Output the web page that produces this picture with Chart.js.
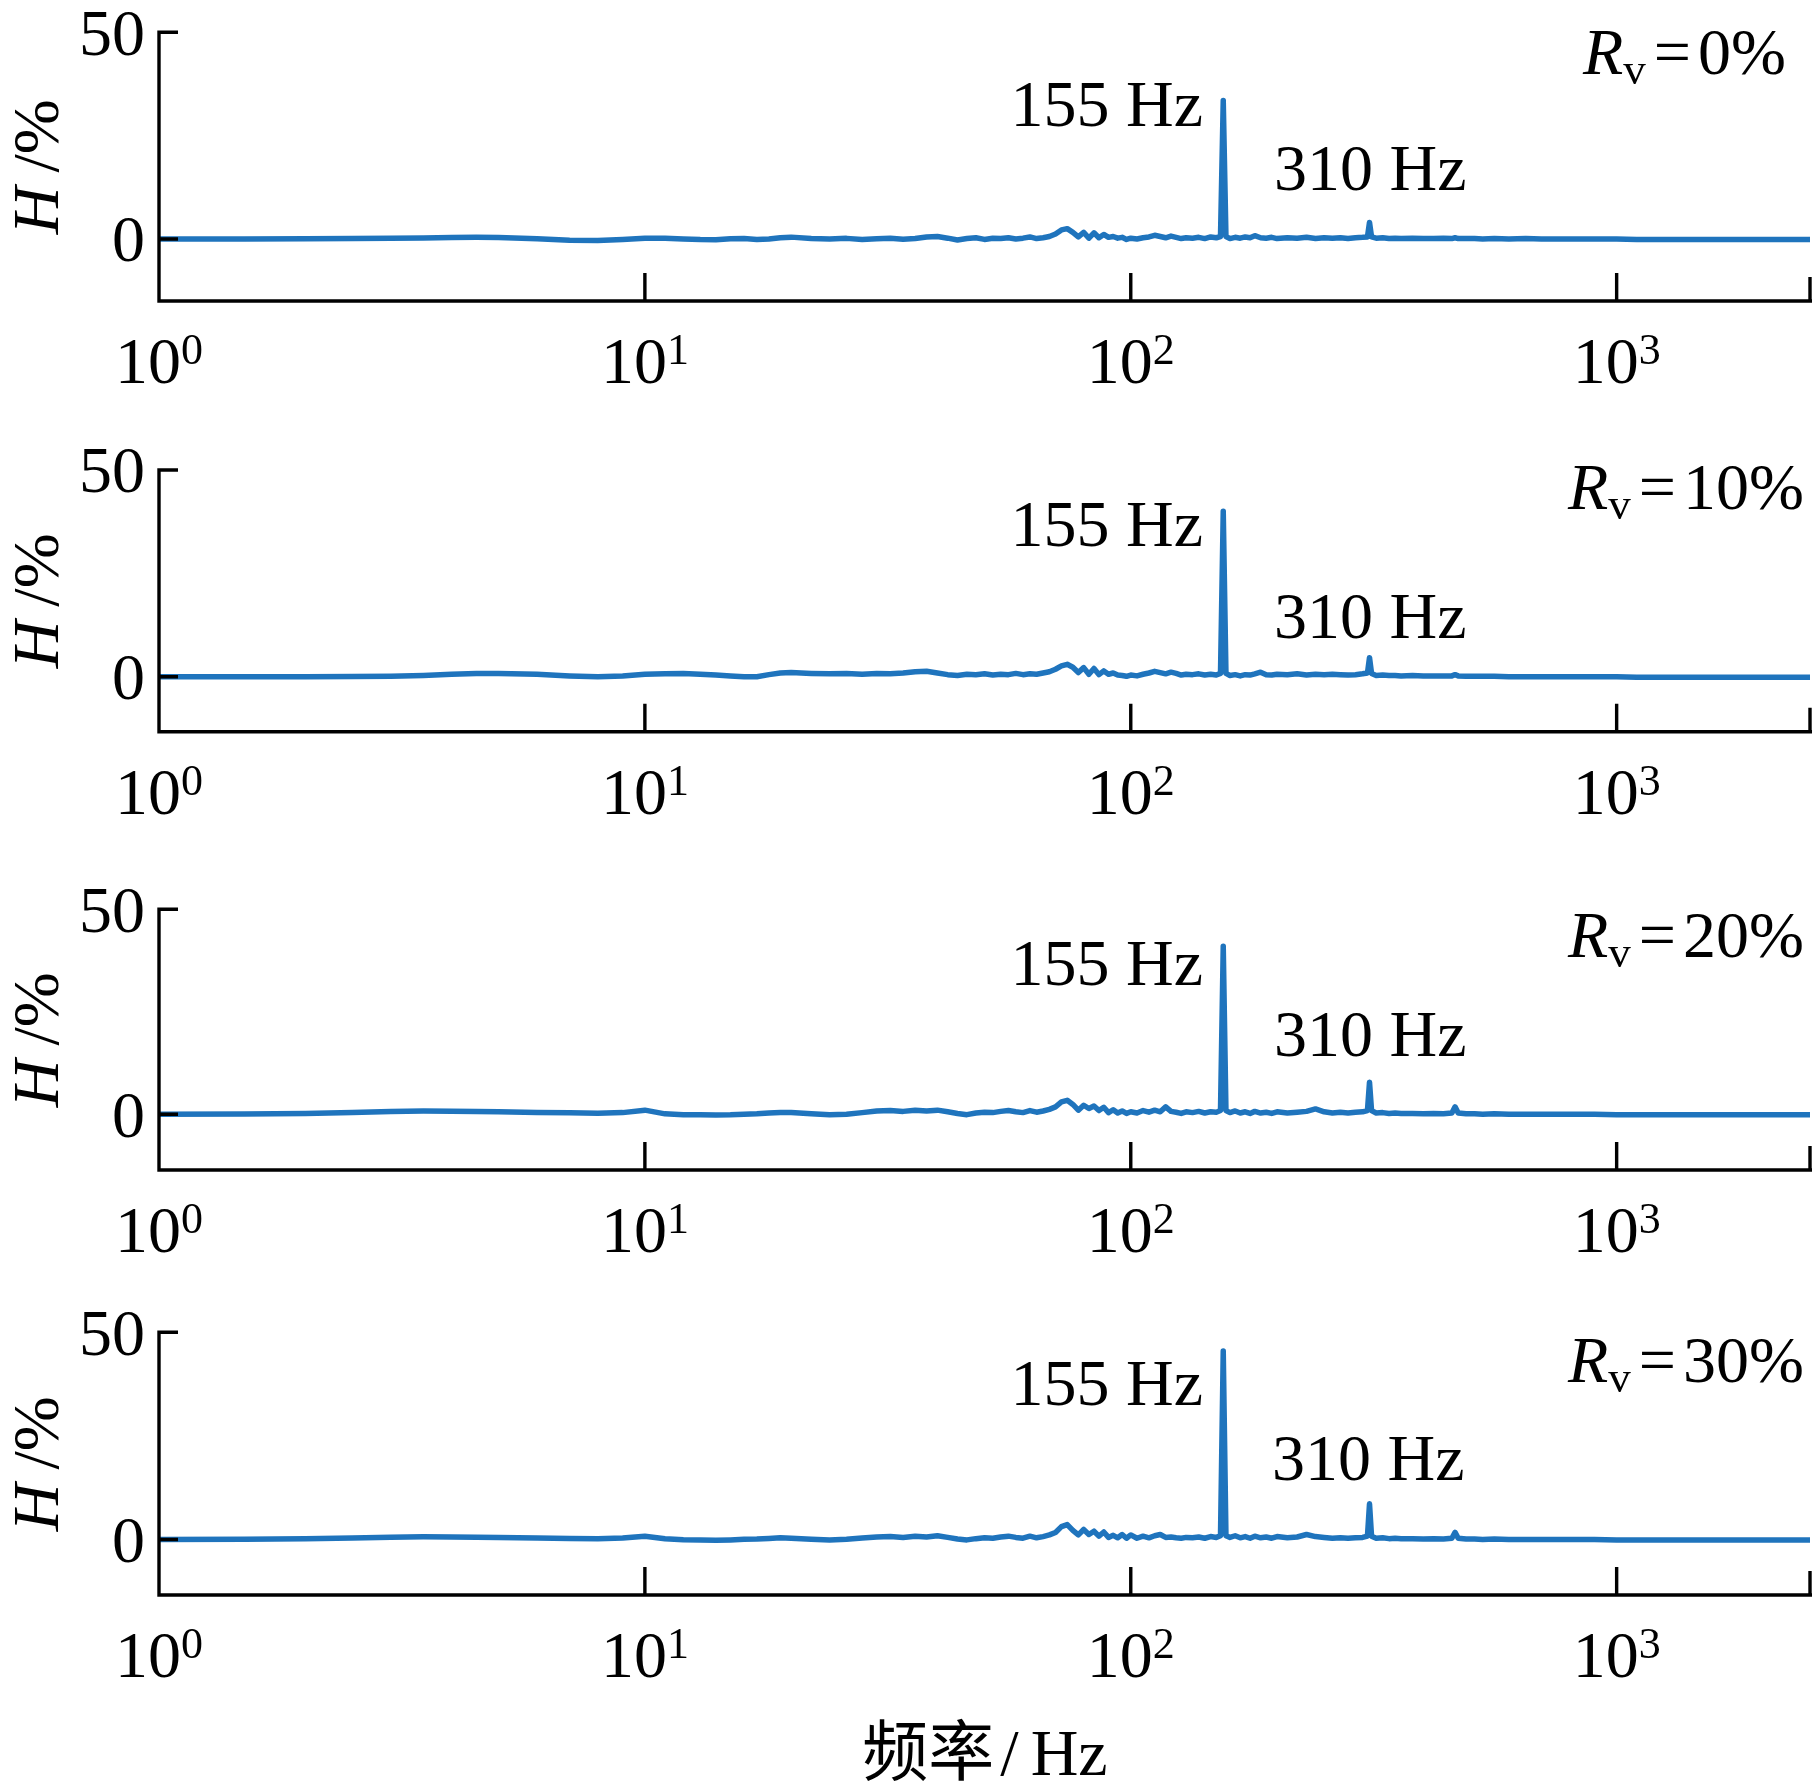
<!DOCTYPE html>
<html>
<head>
<meta charset="utf-8">
<script src="https://cdn.jsdelivr.net/npm/chart.js@4.4.1/dist/chart.umd.min.js"></script>
<style>
  html, body { margin: 0; padding: 0; background: #fff; }
  #wrap { position: relative; width: 1813px; height: 1789px; }
  #wrap canvas { position: absolute; left: 0; top: 0; pointer-events: none; }
</style>
</head>
<body>
<div id="wrap">
  <canvas id="c0" width="1813" height="1789"></canvas>
  <canvas id="c1" width="1813" height="1789"></canvas>
  <canvas id="c2" width="1813" height="1789"></canvas>
  <canvas id="c3" width="1813" height="1789"></canvas>
</div>
<script>
// frequency bins (Hz), shared by all four spectra
var freqHz = [
  1, 1.5, 2, 2.5, 3, 3.5, 4, 4.5, 5, 6,
  7, 8, 9, 10, 11, 12, 13, 14, 15, 16,
  17, 18, 19, 20, 22, 24, 26, 28, 30, 32,
  34, 36, 38, 40, 42, 44, 46, 48, 50, 52,
  54, 56, 58, 60, 62, 64, 66, 68, 70, 72,
  74, 76, 78, 80, 82, 84, 86, 88, 90, 92,
  94, 96, 98, 100, 103, 106, 109, 112, 115, 118,
  121, 124, 127, 130, 134, 138, 142, 146, 150, 153,
  155, 157, 160, 164, 168, 172, 176, 180, 185, 190,
  195, 200, 210, 220, 230, 240, 250, 260, 270, 280,
  290, 300, 307, 310, 313, 320, 330, 340, 350, 360,
  380, 400, 420, 440, 458, 465, 472, 490, 510, 530,
  560, 600, 650, 700, 760, 820, 900, 1000, 1100, 1250,
  1400, 1600, 1800, 2000, 2250, 2500
];

// H (%) for Rv = 0%
var hRv0 = [
  0.0, 0.0, 0.05, 0.1, 0.15, 0.25, 0.35, 0.4, 0.35, 0.05,
  -0.3, -0.35, -0.1, 0.2, 0.15, 0.0, -0.15, -0.2, 0.05, 0.1,
  -0.1, 0.0, 0.3, 0.45, 0.1, 0.0, 0.15, -0.1, 0.05, 0.2,
  -0.05, 0.1, 0.5, 0.6, 0.2, -0.25, 0.1, 0.3, -0.1, 0.2,
  0.1, 0.3, 0.0, 0.2, 0.5, 0.1, 0.3, 0.6, 1.2, 2.2,
  2.5, 1.6, 0.5, 1.6, 0.2, 1.5, 0.3, 1.1, 0.4, 0.6,
  0.2, 0.4, -0.1, 0.2, 0.0, 0.3, 0.5, 0.9, 0.6, 0.3,
  0.7, 0.4, 0.1, 0.3, 0.2, 0.4, 0.1, 0.5, 0.3, 0.6,
  33.5, 0.6, 0.1, 0.4, 0.2, 0.5, 0.3, 0.8, 0.3, 0.2,
  0.4, 0.1, 0.3, 0.2, 0.4, 0.1, 0.3, 0.2, 0.3, 0.1,
  0.3, 0.4, 0.5, 4.0, 0.5, 0.2, 0.3, 0.1, 0.2, 0.1,
  0.2, 0.1, 0.1, 0.2, 0.1, 0.3, 0.1, 0.1, 0.1, 0.0,
  0.1, 0.0, 0.1, 0.0, 0.0, 0.0, 0.0, 0.0, -0.1, -0.1,
  -0.1, -0.1, -0.1, -0.1, -0.1, -0.1
];

// H (%) for Rv = 10%
var hRv10 = [
  0.0, 0.0, 0.0, 0.05, 0.1, 0.3, 0.6, 0.75, 0.8, 0.6,
  0.2, 0.0, 0.2, 0.6, 0.7, 0.8, 0.6, 0.4, 0.2, 0.0,
  0.0, 0.5, 0.9, 1.0, 0.8, 0.7, 0.8, 0.6, 0.8, 0.7,
  0.9, 1.2, 1.3, 0.9, 0.5, 0.3, 0.6, 0.5, 0.7, 0.4,
  0.6, 0.5, 0.8, 0.5, 0.7, 0.6, 0.9, 1.2, 1.8, 2.6,
  3.0, 2.3, 1.0, 2.2, 0.6, 2.0, 0.5, 1.4, 0.6, 0.9,
  0.4, 0.3, 0.1, 0.4, 0.2, 0.6, 0.9, 1.3, 1.0, 0.7,
  1.1, 0.8, 0.4, 0.6, 0.5, 0.7, 0.4, 0.6, 0.4, 0.8,
  40.0, 0.8, 0.3, 0.5, 0.2, 0.5, 0.4, 0.7, 1.1, 0.5,
  0.4, 0.6, 0.5, 0.7, 0.4, 0.6, 0.5, 0.6, 0.5, 0.4,
  0.5, 0.7, 0.9, 4.6, 0.8, 0.3, 0.4, 0.3, 0.3, 0.2,
  0.3, 0.2, 0.2, 0.2, 0.2, 0.5, 0.2, 0.1, 0.1, 0.1,
  0.1, 0.0, 0.0, 0.0, 0.0, 0.0, 0.0, 0.0, -0.1, -0.1,
  -0.1, -0.1, -0.1, -0.1, -0.1, -0.1
];

// H (%) for Rv = 20%
var hRv20 = [
  0.0, 0.05, 0.2, 0.45, 0.7, 0.8, 0.75, 0.7, 0.6, 0.45,
  0.35, 0.25, 0.4, 1.0, 0.1, -0.1, -0.15, -0.2, -0.15, 0.0,
  0.1, 0.3, 0.45, 0.4, 0.1, -0.1, 0.0, 0.4, 0.8, 0.9,
  0.7, 1.0, 0.8, 1.0, 0.6, 0.2, -0.1, 0.3, 0.5, 0.4,
  0.7, 0.9, 0.6, 0.4, 0.9, 0.5, 0.8, 1.2, 1.8, 3.0,
  3.4, 2.4, 1.0, 2.2, 1.4, 2.0, 0.9, 1.7, 0.4, 1.1,
  0.3, 0.8, 0.2, 0.6, 0.3, 0.9, 0.5, 1.0, 0.6, 1.8,
  0.7, 0.5, 0.2, 0.6, 0.4, 0.7, 0.3, 0.6, 0.5, 0.9,
  41.0, 0.9, 0.4, 0.8, 0.3, 0.6, 0.2, 0.7, 0.3, 0.5,
  0.2, 0.6, 0.3, 0.5, 0.7, 1.3, 0.6, 0.3, 0.5, 0.3,
  0.5, 0.6, 0.9, 7.8, 0.9, 0.3, 0.4, 0.2, 0.3, 0.2,
  0.2, 0.1, 0.2, 0.1, 0.3, 1.8, 0.3, 0.1, 0.1, 0.0,
  0.1, 0.0, 0.0, 0.0, 0.0, 0.0, 0.0, -0.1, -0.1, -0.1,
  -0.1, -0.1, -0.1, -0.1, -0.1, -0.1
];

// H (%) for Rv = 30%
var hRv30 = [
  0.0, 0.05, 0.15, 0.35, 0.55, 0.65, 0.6, 0.55, 0.5, 0.35,
  0.25, 0.15, 0.35, 0.8, 0.2, -0.05, -0.15, -0.2, -0.1, 0.05,
  0.1, 0.25, 0.4, 0.3, 0.05, -0.1, 0.05, 0.35, 0.6, 0.7,
  0.5, 0.8, 0.6, 0.9, 0.5, 0.1, -0.1, 0.2, 0.4, 0.3,
  0.6, 0.8, 0.5, 0.3, 0.8, 0.4, 0.7, 1.1, 1.7, 3.1,
  3.6, 2.2, 1.1, 2.4, 1.2, 2.0, 0.8, 1.8, 0.5, 1.0,
  0.4, 1.2, 0.3, 1.1, 0.3, 0.8, 0.4, 0.9, 1.2, 0.5,
  0.6, 0.4, 0.3, 0.5, 0.4, 0.6, 0.3, 0.7, 0.5, 0.9,
  45.5, 0.9, 0.5, 0.9, 0.4, 0.7, 0.3, 0.8, 0.4, 0.6,
  0.3, 0.7, 0.4, 0.6, 1.2, 0.7, 0.5, 0.3, 0.4, 0.3,
  0.4, 0.5, 0.8, 8.6, 0.8, 0.3, 0.4, 0.2, 0.3, 0.2,
  0.2, 0.1, 0.2, 0.1, 0.3, 1.7, 0.3, 0.1, 0.1, 0.0,
  0.1, 0.0, 0.0, 0.0, 0.0, 0.0, 0.0, -0.1, -0.1, -0.1,
  -0.1, -0.1, -0.1, -0.1, -0.1, -0.1
];

var rvLabels = ['0%', '10%', '20%', '30%'];
var peakLabels = ['155 Hz', '310 Hz'];
var yTicks = [0, 50];
var xTicks = [1, 10, 100, 1000];
var xTickExp = ['0', '1', '2', '3'];
var xMin = 1, xMax = 2500;
var yMins = [-15, -13.3, -13.6, -13.4];
var yMax = 50;

var seriesList = [hRv0, hRv10, hRv20, hRv30];

// page layout (pixels)
var W = 1813, H = 1789;
var AX_LEFT = 159, AX_RIGHT = 1810;
var panelLayout = [
  {top: 32.3, bottom: 301, p155: 126, p310x: 1274, p310: 190, rvx: 1583, rv: 74},
  {top: 470, bottom: 731.7, p155: 546, p310x: 1274, p310: 638, rvx: 1568, rv: 509},
  {top: 909.3, bottom: 1170, p155: 985, p310x: 1274, p310: 1056, rvx: 1568, rv: 957},
  {top: 1332.3, bottom: 1595, p155: 1405, p310x: 1272, p310: 1480, rvx: 1568, rv: 1382}
];

var LINE_BLUE = '#1f74bd';
var FONT = '"Liberation Serif", "Times New Roman", "Noto Sans CJK SC", serif';
var FS = 66, FS_SMALL = 45;

function font(size, italic){
  return (italic ? 'italic ' : '') + size + 'px ' + FONT;
}

// draws pieces of text one after another, returns end x
function drawRuns(ctx, runs, x, y){
  for(var i = 0; i < runs.length; i++){
    var r = runs[i];
    ctx.font = font(r.size, r.italic);
    ctx.fillText(r.t, x, y + (r.dy || 0));
    x += ctx.measureText(r.t).width + (r.gap || 0);
  }
  return x;
}

function runsWidth(ctx, runs){
  var w = 0;
  for(var i = 0; i < runs.length; i++){
    ctx.font = font(runs[i].size, runs[i].italic);
    w += ctx.measureText(runs[i].t).width + (runs[i].gap || 0);
  }
  return w;
}

var axesPlugin = {
  id: 'matlabAxes',
  afterDatasetsDraw: function(chart, args, opts){
    var ctx = chart.ctx, xs = chart.scales.x, ys = chart.scales.y, a = chart.chartArea;
    ctx.save();
    ctx.strokeStyle = '#000';
    ctx.lineWidth = 3.4;
    ctx.lineCap = 'butt';
    ctx.beginPath();
    ctx.moveTo(a.left, a.top - 1.7);
    ctx.lineTo(a.left, a.bottom);
    ctx.moveTo(a.left - 1.7, a.bottom);
    ctx.lineTo(a.right + 2, a.bottom);
    yTicks.forEach(function(v){
      var y = ys.getPixelForValue(v);
      ctx.moveTo(a.left, y);
      ctx.lineTo(a.left + 19, y);
    });
    xTicks.concat([xMax]).forEach(function(v){
      var x = xs.getPixelForValue(v);
      var len = v === xMax ? 24 : 28;
      ctx.moveTo(x, a.bottom);
      ctx.lineTo(x, a.bottom - len);
    });
    ctx.stroke();
    ctx.restore();
  },
  afterDraw: function(chart, args, opts){
    var ctx = chart.ctx, xs = chart.scales.x, ys = chart.scales.y, a = chart.chartArea;
    var i = opts.panel, p = panelLayout[i];
    ctx.save();
    ctx.fillStyle = '#000';
    ctx.textBaseline = 'alphabetic';

    // y tick labels
    ctx.font = font(FS);
    ctx.textAlign = 'right';
    yTicks.forEach(function(v){
      ctx.fillText(String(v), a.left - 14, ys.getPixelForValue(v) + 0.338 * FS);
    });

    // x tick labels 10^n
    ctx.textAlign = 'left';
    xTicks.forEach(function(v, k){
      var x = xs.getPixelForValue(v);
      ctx.font = font(FS);
      var w1 = ctx.measureText('10').width;
      ctx.font = font(44);
      var w2 = ctx.measureText(xTickExp[k]).width;
      var left = x - (w1 + w2) / 2;
      var base = a.bottom + 82;
      ctx.font = font(FS);
      ctx.fillText('10', left, base);
      ctx.font = font(44);
      ctx.fillText(xTickExp[k], left + w1, base - 19);
    });

    // y axis title, rotated
    var yt = [{t: 'H', size: FS, italic: true, gap: 14}, {t: '/%', size: FS}];
    ctx.save();
    ctx.translate(58, (a.top + a.bottom) / 2);
    ctx.rotate(-Math.PI / 2);
    drawRuns(ctx, yt, -runsWidth(ctx, yt) / 2, 0);
    ctx.restore();

    // peak annotations
    ctx.font = font(FS);
    ctx.textAlign = 'right';
    ctx.fillText(peakLabels[0], 1203, p.p155);
    ctx.textAlign = 'left';
    ctx.fillText(peakLabels[1], p.p310x, p.p310);

    // R_v = x%
    drawRuns(ctx, [
      {t: 'R', size: FS, italic: true},
      {t: 'v', size: FS_SMALL, dy: 10, gap: 8},
      {t: '=', size: FS, gap: 7},
      {t: rvLabels[i], size: FS}
    ], p.rvx, p.rv);

    // shared x axis title under the last panel
    if(i === panelLayout.length - 1){
      var xt = [{t: '频率', size: FS, gap: 6}, {t: '/', size: FS, gap: 12}, {t: 'Hz', size: FS}];
      drawRuns(ctx, xt, 985 - runsWidth(ctx, xt) / 2, 1775);
    }
    ctx.restore();
  }
};

function makeChart(i){
  var p = panelLayout[i];
  var vals = seriesList[i];
  return new Chart(document.getElementById('c' + i), {
    type: 'line',
    data: {
      datasets: [{
        data: freqHz.map(function(f, k){ return {x: f, y: vals[k]}; }),
        borderColor: LINE_BLUE,
        borderWidth: 5.5,
        pointRadius: 0,
        tension: 0,
        fill: false,
        borderJoinStyle: 'round',
        borderCapStyle: 'round'
      }]
    },
    options: {
      responsive: false,
      devicePixelRatio: 1,
      animation: false,
      events: [],
      layout: {padding: {left: AX_LEFT, right: W - AX_RIGHT, top: p.top, bottom: H - p.bottom}},
      scales: {
        x: {type: 'logarithmic', min: xMin, max: xMax, display: false},
        y: {type: 'linear', min: yMins[i], max: yMax, display: false}
      },
      plugins: {
        legend: {display: false},
        tooltip: {enabled: false},
        matlabAxes: {panel: i}
      }
    },
    plugins: [axesPlugin]
  });
}

for(var i = 0; i < 4; i++){
  makeChart(i);
}
</script>
</body>
</html>
